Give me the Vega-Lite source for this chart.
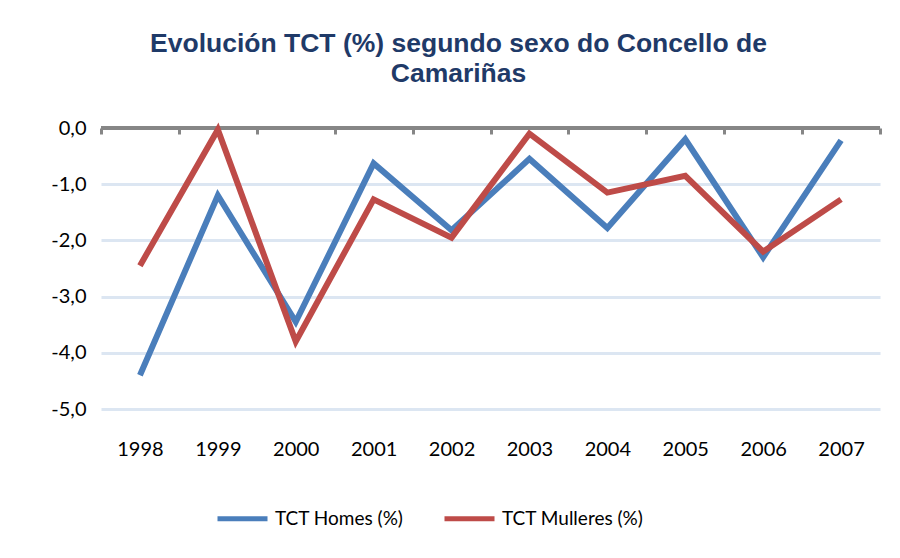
{
  "$schema": "https://vega.github.io/schema/vega-lite/v6.json",
  "autosize": "none",
  "width": 779,
  "height": 281,
  "padding": {"left": 101, "top": 128, "right": 20, "bottom": 149},
  "background": "white",
  "config": {
    "view": {"stroke": null},
    "font": "Lato",
    "axis": {"labelFont": "Lato", "labelFontSize": 20, "labelColor": "#000000"},
    "legend": {"labelFont": "Lato", "labelFontSize": 19, "labelColor": "#000000"}
  },
  "title": {
    "text": ["Evolución TCT (%) segundo  sexo do Concello de", "Camariñas"],
    "font": "Liberation Sans",
    "fontSize": 26.5,
    "fontWeight": "bold",
    "color": "#1F3A68",
    "anchor": "middle",
    "frame": "group",
    "dx": -32,
    "offset": 30,
    "lineHeight": 30
  },
  "data": {
    "values": [
      {"year": 1998, "serie": "TCT Homes (%)", "value": -4.4},
      {"year": 1999, "serie": "TCT Homes (%)", "value": -1.2},
      {"year": 2000, "serie": "TCT Homes (%)", "value": -3.45},
      {"year": 2001, "serie": "TCT Homes (%)", "value": -0.63},
      {"year": 2002, "serie": "TCT Homes (%)", "value": -1.82},
      {"year": 2003, "serie": "TCT Homes (%)", "value": -0.55},
      {"year": 2004, "serie": "TCT Homes (%)", "value": -1.78},
      {"year": 2005, "serie": "TCT Homes (%)", "value": -0.2},
      {"year": 2006, "serie": "TCT Homes (%)", "value": -2.3},
      {"year": 2007, "serie": "TCT Homes (%)", "value": -0.22},
      {"year": 1998, "serie": "TCT Mulleres (%)", "value": -2.45},
      {"year": 1999, "serie": "TCT Mulleres (%)", "value": -0.03},
      {"year": 2000, "serie": "TCT Mulleres (%)", "value": -3.8},
      {"year": 2001, "serie": "TCT Mulleres (%)", "value": -1.27},
      {"year": 2002, "serie": "TCT Mulleres (%)", "value": -1.95},
      {"year": 2003, "serie": "TCT Mulleres (%)", "value": -0.1},
      {"year": 2004, "serie": "TCT Mulleres (%)", "value": -1.15},
      {"year": 2005, "serie": "TCT Mulleres (%)", "value": -0.85},
      {"year": 2006, "serie": "TCT Mulleres (%)", "value": -2.2},
      {"year": 2007, "serie": "TCT Mulleres (%)", "value": -1.27}
    ]
  },
  "layer": [
    {
      "mark": {"type": "rule", "color": "#868686", "strokeWidth": 3},
      "encoding": {
        "x": {
          "datum": 1997.5,
          "type": "quantitative",
          "scale": {"domain": [1997.5, 2007.5], "nice": false, "zero": false},
          "axis": {
            "orient": "top",
            "values": [1997.5, 1998.5, 1999.5, 2000.5, 2001.5, 2002.5, 2003.5, 2004.5, 2005.5, 2006.5, 2007.5],
            "labels": false,
            "domain": false,
            "grid": false,
            "ticks": true,
            "tickColor": "#868686",
            "tickWidth": 3,
            "tickSize": -6,
            "title": null
          }
        },
        "x2": {"datum": 2007.5},
        "y": {
          "datum": 0,
          "type": "quantitative",
          "scale": {"domain": [-5, 0], "nice": false, "zero": false},
          "axis": {
            "values": [-5, -4, -3, -2, -1, 0],
            "domain": false,
            "ticks": false,
            "grid": true,
            "gridColor": "#DCE6F2",
            "gridWidth": 3,
            "labelPadding": 15,
            "labelExpr": "replace(replace(format(datum.value, '.1f'), '.', ','), '\u2212', '-')",
            "title": null
          }
        }
      }
    },
    {
      "mark": {"type": "line", "strokeWidth": 6, "strokeCap": "butt", "strokeJoin": "miter"},
      "encoding": {
        "x": {
          "field": "year",
          "type": "quantitative",
          "axis": {
            "orient": "bottom",
            "values": [1998, 1999, 2000, 2001, 2002, 2003, 2004, 2005, 2006, 2007],
            "format": "d",
            "domain": false,
            "ticks": false,
            "grid": false,
            "labelPadding": 30,
            "title": null
          }
        },
        "y": {"field": "value", "type": "quantitative"},
        "color": {
          "field": "serie",
          "type": "nominal",
          "scale": {"domain": ["TCT Homes (%)", "TCT Mulleres (%)"], "range": ["#4A7EBB", "#BE4B48"]},
          "legend": {
            "title": null,
            "orient": "none",
            "direction": "horizontal",
            "legendX": 114,
            "legendY": 363,
            "symbolType": "stroke",
            "symbolSize": 2500,
            "symbolStrokeWidth": 5,
            "columnPadding": 30,
            "labelOffset": 5
          }
        }
      }
    }
  ],
  "resolve": {"axis": {"x": "independent"}}
}
